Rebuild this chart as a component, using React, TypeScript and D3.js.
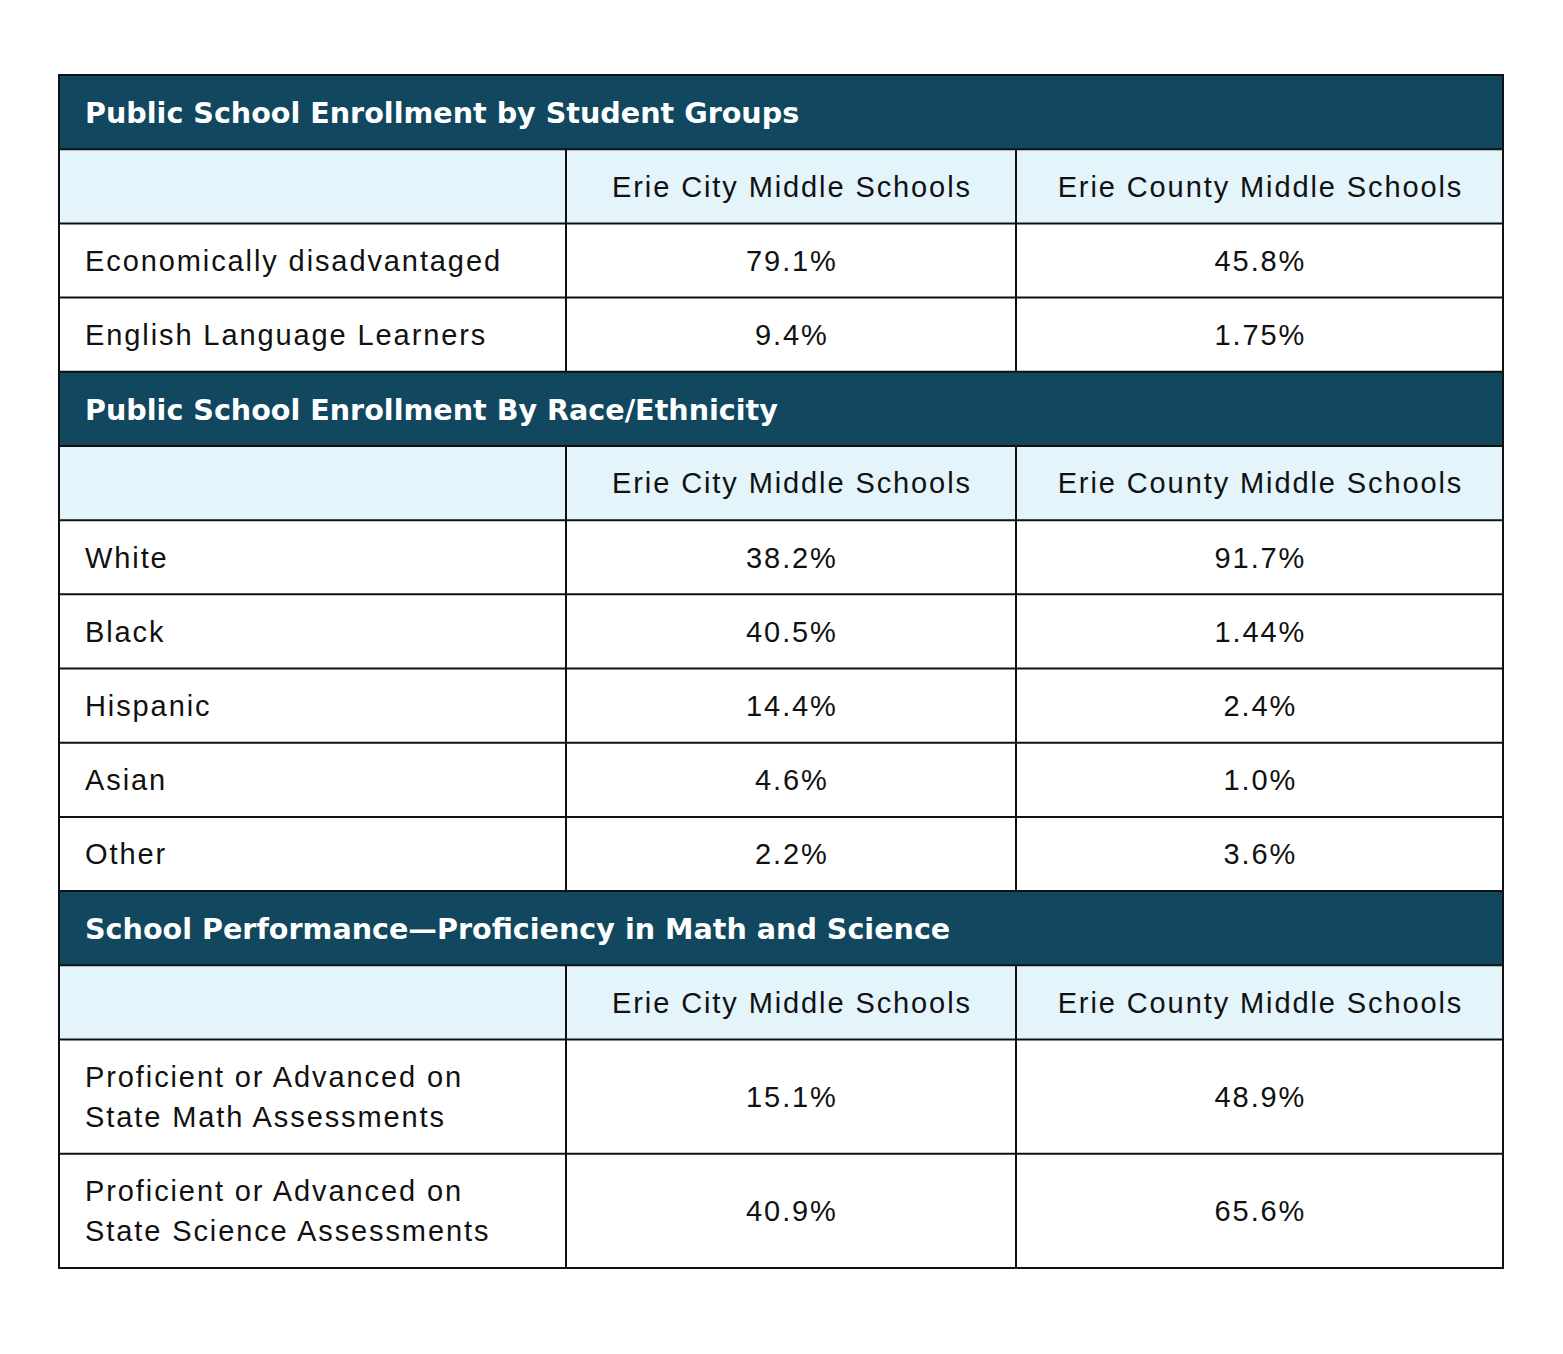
import React from "react";
import * as d3 from "d3";

const sectionTitles = [
  "Public School Enrollment by Student Groups",
  "Public School Enrollment By Race/Ethnicity",
  "School Performance\u2014Proficiency in Math and Science",
];
const columnHeaders = ["", "Erie City Middle Schools", "Erie County Middle Schools"];

const groupLabels = [["Economically disadvantaged"], ["English Language Learners"]];
const groupCity = ["79.1%", "9.4%"];
const groupCounty = ["45.8%", "1.75%"];

const raceLabels = [["White"], ["Black"], ["Hispanic"], ["Asian"], ["Other"]];
const raceCity = ["38.2%", "40.5%", "14.4%", "4.6%", "2.2%"];
const raceCounty = ["91.7%", "1.44%", "2.4%", "1.0%", "3.6%"];

const perfLabels = [
  ["Proficient or Advanced on", "State Math Assessments"],
  ["Proficient or Advanced on", "State Science Assessments"],
];
const perfCity = ["15.1%", "40.9%"];
const perfCounty = ["48.9%", "65.6%"];

type Row = { kind: "title" | "head" | "data"; cells: string[][]; units: number };

function buildRows(): Row[] {
  const rows: Row[] = [];
  const sections = [
    [groupLabels, groupCity, groupCounty],
    [raceLabels, raceCity, raceCounty],
    [perfLabels, perfCity, perfCounty],
  ] as [string[][], string[], string[]][];
  sections.forEach(([labels, city, county], si) => {
    rows.push({ kind: "title", cells: [[sectionTitles[si]]], units: 1 });
    rows.push({ kind: "head", cells: columnHeaders.map((c) => [c]), units: 1 });
    labels.forEach((lab, i) => {
      rows.push({
        kind: "data",
        cells: [lab, [city[i]], [county[i]]],
        units: lab.length > 1 ? 1.54 : 1,
      });
    });
  });
  return rows;
}

const DARK = "#11475f";
const LIGHT = "#e3f4fb";

export default function App() {
  const rows = buildRows();
  const left = 59,
    right = 1503,
    top = 75,
    bottom = 1268;
  const colEdges = [left, 566, 1016, right];
  const cum = [0, ...d3.cumsum(rows.map((r) => r.units))];
  const total = cum[cum.length - 1];
  const y = d3.scaleLinear().domain([0, total]).range([top, bottom]);
  const font = "'Liberation Sans', Arial, Helvetica, sans-serif";
  const titleFont = "'DejaVu Sans', 'Liberation Sans', sans-serif";
  const fs = 29;
  const ls = 1.9;
  const lineH = 40;

  const els: React.ReactNode[] = [];
  rows.forEach((r, ri) => {
    const y0 = y(cum[ri]);
    const y1 = y(cum[ri + 1]);
    const cy = (y0 + y1) / 2;
    if (r.kind === "title") {
      els.push(<rect key={`bg${ri}`} x={left} y={y0} width={right - left} height={y1 - y0} fill={DARK} />);
      els.push(
        <text key={`t${ri}`} x={left + 26} y={cy + 1} dy="0.36em" fill="#fff" fontWeight="bold" fontSize={28.6} fontFamily={titleFont}>
          {r.cells[0][0]}
        </text>
      );
    } else {
      if (r.kind === "head") {
        els.push(<rect key={`bg${ri}`} x={left} y={y0} width={right - left} height={y1 - y0} fill={LIGHT} />);
      }
      r.cells.forEach((lines, ci) => {
        const cx0 = colEdges[ci];
        const cx1 = colEdges[ci + 1];
        const anchor = ci === 0 ? "start" : "middle";
        const tx = ci === 0 ? cx0 + 26 : (cx0 + cx1) / 2 + ls / 2;
        lines.forEach((ln, li) => {
          const ty = cy + (li - (lines.length - 1) / 2) * lineH;
          els.push(
            <text key={`c${ri}-${ci}-${li}`} x={tx} y={ty} dy="0.36em" textAnchor={anchor} fill="#111" fontSize={fs} fontFamily={font} letterSpacing={ls}>
              {ln}
            </text>
          );
        });
      });
      [colEdges[1], colEdges[2]].forEach((vx, k) =>
        els.push(<line key={`v${ri}-${k}`} x1={vx} x2={vx} y1={y0} y2={y1} stroke="#111" strokeWidth={2} />)
      );
    }
    if (ri > 0) {
      els.push(<line key={`h${ri}`} x1={left} x2={right} y1={y0} y2={y0} stroke="#111" strokeWidth={2} />);
    }
  });

  return (
    <svg width={1563} height={1354} style={{ position: "absolute", left: 0, top: 0, background: "#fff" }}>
      <rect x={0} y={0} width={1563} height={1354} fill="#fff" />
      {els}
      <rect x={left} y={top} width={right - left} height={bottom - top} fill="none" stroke="#111" strokeWidth={2} />
    </svg>
  );
}
